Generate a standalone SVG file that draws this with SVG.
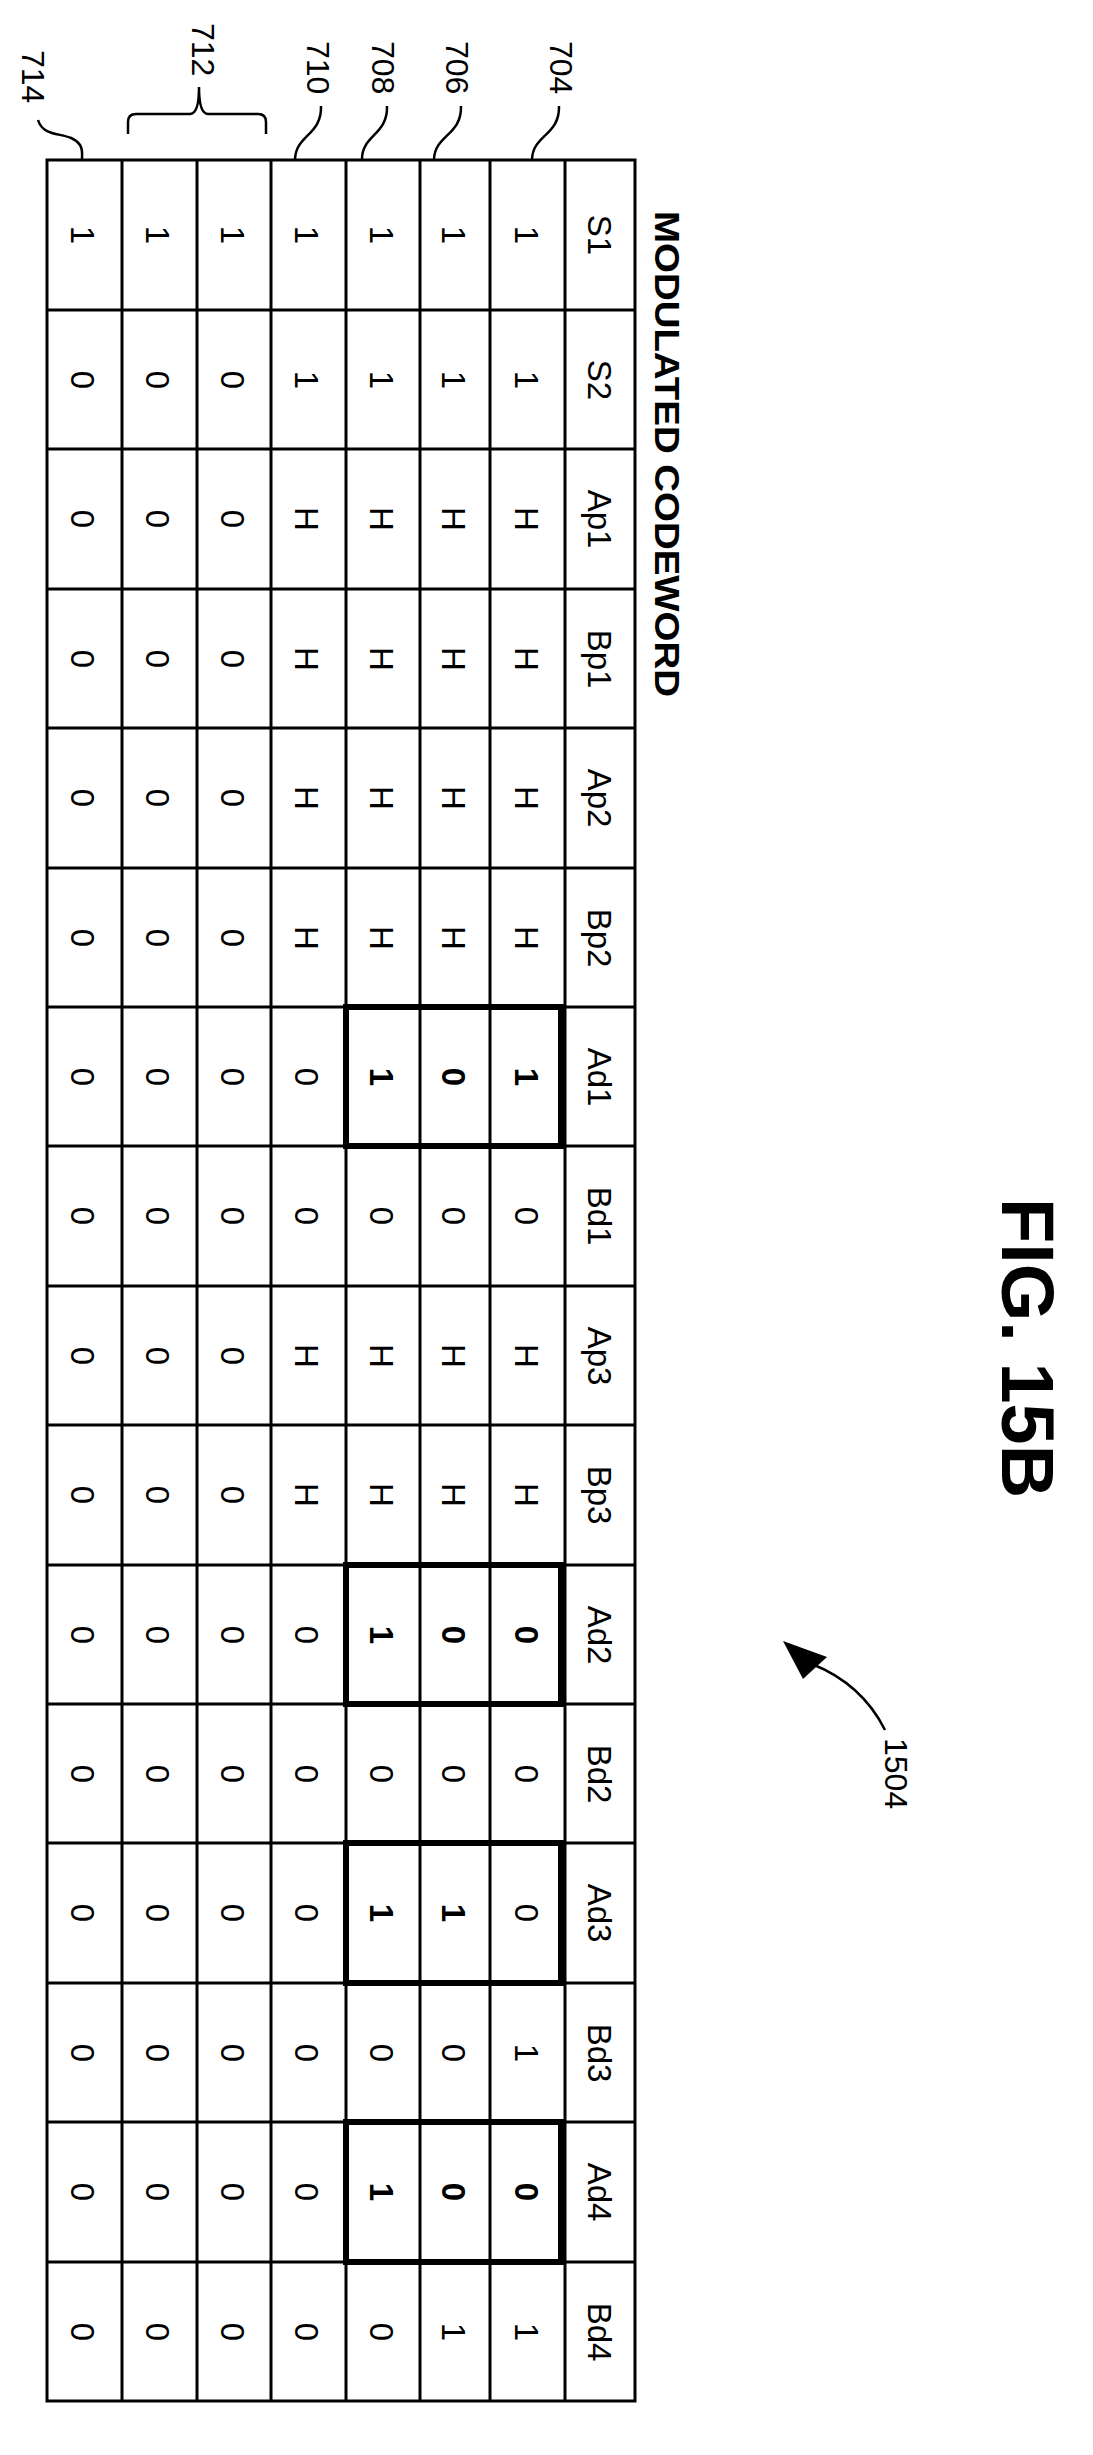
<svg xmlns="http://www.w3.org/2000/svg" width="1093" height="2455" viewBox="0 0 1093 2455">
<style>
.g{stroke:#000;stroke-width:3;fill:none}
.b{stroke:#000;stroke-width:6;fill:none}
.l{stroke:#000;stroke-width:2.5;fill:none}
text{font-family:"Liberation Sans",Arial,sans-serif;fill:#000}
.c{font-size:33px;text-anchor:middle}
.cb{font-size:33px;text-anchor:middle;font-weight:bold}
.r{font-size:32px}
</style>
<rect width="1093" height="2455" fill="#fff"/>
<g id="grid">
<rect class="g" x="47" y="160" width="588" height="2241"/>
<path class="g" d="M122,160V2401M197,160V2401M271,160V2401M346,160V2401M420,160V2401M490,160V2401M565,160V2401"/>
<path class="g" d="M47,310H635M47,449H635M47,589H635M47,728H635M47,868H635M47,1007H635M47,1146H635M47,1286H635M47,1425H635M47,1565H635M47,1704H635M47,1843H635M47,1983H635M47,2122H635M47,2262H635"/>
<rect class="b" x="346" y="1007" width="215" height="139"/>
<rect class="b" x="346" y="1565" width="215" height="139"/>
<rect class="b" x="346" y="1843" width="215" height="140"/>
<rect class="b" x="346" y="2122" width="215" height="140"/>
</g>
<g id="title"><text transform="translate(655,211) rotate(90)" font-size="35" font-weight="bold" textLength="486" lengthAdjust="spacingAndGlyphs">MODULATED CODEWORD</text></g>
<g id="fig"><text transform="translate(1002,1198) rotate(90)" font-size="74" font-weight="bold">FIG. 15B</text></g>
<g id="t1">
<g transform="translate(588,235) rotate(90)"><text class="c">S1</text></g>
<g transform="translate(588,380) rotate(90)"><text class="c">S2</text></g>
<g transform="translate(588,519) rotate(90)"><text class="c">Ap1</text></g>
<g transform="translate(588,659) rotate(90)"><text class="c">Bp1</text></g>
<g transform="translate(588,798) rotate(90)"><text class="c">Ap2</text></g>
<g transform="translate(588,938) rotate(90)"><text class="c">Bp2</text></g>
<g transform="translate(588,1077) rotate(90)"><text class="c">Ad1</text></g>
<g transform="translate(588,1216) rotate(90)"><text class="c">Bd1</text></g>
<g transform="translate(588,1356) rotate(90)"><text class="c">Ap3</text></g>
<g transform="translate(588,1495) rotate(90)"><text class="c">Bp3</text></g>
<g transform="translate(588,1635) rotate(90)"><text class="c">Ad2</text></g>
<g transform="translate(588,1774) rotate(90)"><text class="c">Bd2</text></g>
<g transform="translate(588,1913) rotate(90)"><text class="c">Ad3</text></g>
<g transform="translate(588,2053) rotate(90)"><text class="c">Bd3</text></g>
<g transform="translate(588,2192) rotate(90)"><text class="c">Ad4</text></g>
<g transform="translate(588,2332) rotate(90)"><text class="c">Bd4</text></g>
</g>
<g id="data">
<g transform="translate(515,235) rotate(90)"><text class="c">1</text></g>
<g transform="translate(442,235) rotate(90)"><text class="c">1</text></g>
<g transform="translate(370,235) rotate(90)"><text class="c">1</text></g>
<g transform="translate(295,235) rotate(90)"><text class="c">1</text></g>
<g transform="translate(221,235) rotate(90)"><text class="c">1</text></g>
<g transform="translate(146,235) rotate(90)"><text class="c">1</text></g>
<g transform="translate(71,235) rotate(90)"><text class="c">1</text></g>
<g transform="translate(515,380) rotate(90)"><text class="c">1</text></g>
<g transform="translate(442,380) rotate(90)"><text class="c">1</text></g>
<g transform="translate(370,380) rotate(90)"><text class="c">1</text></g>
<g transform="translate(295,380) rotate(90)"><text class="c">1</text></g>
<g transform="translate(221,380) rotate(90)"><text class="c">0</text></g>
<g transform="translate(146,380) rotate(90)"><text class="c">0</text></g>
<g transform="translate(71,380) rotate(90)"><text class="c">0</text></g>
<g transform="translate(515,519) rotate(90)"><text class="c">H</text></g>
<g transform="translate(442,519) rotate(90)"><text class="c">H</text></g>
<g transform="translate(370,519) rotate(90)"><text class="c">H</text></g>
<g transform="translate(295,519) rotate(90)"><text class="c">H</text></g>
<g transform="translate(221,519) rotate(90)"><text class="c">0</text></g>
<g transform="translate(146,519) rotate(90)"><text class="c">0</text></g>
<g transform="translate(71,519) rotate(90)"><text class="c">0</text></g>
<g transform="translate(515,659) rotate(90)"><text class="c">H</text></g>
<g transform="translate(442,659) rotate(90)"><text class="c">H</text></g>
<g transform="translate(370,659) rotate(90)"><text class="c">H</text></g>
<g transform="translate(295,659) rotate(90)"><text class="c">H</text></g>
<g transform="translate(221,659) rotate(90)"><text class="c">0</text></g>
<g transform="translate(146,659) rotate(90)"><text class="c">0</text></g>
<g transform="translate(71,659) rotate(90)"><text class="c">0</text></g>
<g transform="translate(515,798) rotate(90)"><text class="c">H</text></g>
<g transform="translate(442,798) rotate(90)"><text class="c">H</text></g>
<g transform="translate(370,798) rotate(90)"><text class="c">H</text></g>
<g transform="translate(295,798) rotate(90)"><text class="c">H</text></g>
<g transform="translate(221,798) rotate(90)"><text class="c">0</text></g>
<g transform="translate(146,798) rotate(90)"><text class="c">0</text></g>
<g transform="translate(71,798) rotate(90)"><text class="c">0</text></g>
<g transform="translate(515,938) rotate(90)"><text class="c">H</text></g>
<g transform="translate(442,938) rotate(90)"><text class="c">H</text></g>
<g transform="translate(370,938) rotate(90)"><text class="c">H</text></g>
<g transform="translate(295,938) rotate(90)"><text class="c">H</text></g>
<g transform="translate(221,938) rotate(90)"><text class="c">0</text></g>
<g transform="translate(146,938) rotate(90)"><text class="c">0</text></g>
<g transform="translate(71,938) rotate(90)"><text class="c">0</text></g>
<g transform="translate(515,1077) rotate(90)"><text class="cb">1</text></g>
<g transform="translate(442,1077) rotate(90)"><text class="cb">0</text></g>
<g transform="translate(370,1077) rotate(90)"><text class="cb">1</text></g>
<g transform="translate(295,1077) rotate(90)"><text class="c">0</text></g>
<g transform="translate(221,1077) rotate(90)"><text class="c">0</text></g>
<g transform="translate(146,1077) rotate(90)"><text class="c">0</text></g>
<g transform="translate(71,1077) rotate(90)"><text class="c">0</text></g>
<g transform="translate(515,1216) rotate(90)"><text class="c">0</text></g>
<g transform="translate(442,1216) rotate(90)"><text class="c">0</text></g>
<g transform="translate(370,1216) rotate(90)"><text class="c">0</text></g>
<g transform="translate(295,1216) rotate(90)"><text class="c">0</text></g>
<g transform="translate(221,1216) rotate(90)"><text class="c">0</text></g>
<g transform="translate(146,1216) rotate(90)"><text class="c">0</text></g>
<g transform="translate(71,1216) rotate(90)"><text class="c">0</text></g>
<g transform="translate(515,1356) rotate(90)"><text class="c">H</text></g>
<g transform="translate(442,1356) rotate(90)"><text class="c">H</text></g>
<g transform="translate(370,1356) rotate(90)"><text class="c">H</text></g>
<g transform="translate(295,1356) rotate(90)"><text class="c">H</text></g>
<g transform="translate(221,1356) rotate(90)"><text class="c">0</text></g>
<g transform="translate(146,1356) rotate(90)"><text class="c">0</text></g>
<g transform="translate(71,1356) rotate(90)"><text class="c">0</text></g>
<g transform="translate(515,1495) rotate(90)"><text class="c">H</text></g>
<g transform="translate(442,1495) rotate(90)"><text class="c">H</text></g>
<g transform="translate(370,1495) rotate(90)"><text class="c">H</text></g>
<g transform="translate(295,1495) rotate(90)"><text class="c">H</text></g>
<g transform="translate(221,1495) rotate(90)"><text class="c">0</text></g>
<g transform="translate(146,1495) rotate(90)"><text class="c">0</text></g>
<g transform="translate(71,1495) rotate(90)"><text class="c">0</text></g>
<g transform="translate(515,1635) rotate(90)"><text class="cb">0</text></g>
<g transform="translate(442,1635) rotate(90)"><text class="cb">0</text></g>
<g transform="translate(370,1635) rotate(90)"><text class="cb">1</text></g>
<g transform="translate(295,1635) rotate(90)"><text class="c">0</text></g>
<g transform="translate(221,1635) rotate(90)"><text class="c">0</text></g>
<g transform="translate(146,1635) rotate(90)"><text class="c">0</text></g>
<g transform="translate(71,1635) rotate(90)"><text class="c">0</text></g>
<g transform="translate(515,1774) rotate(90)"><text class="c">0</text></g>
<g transform="translate(442,1774) rotate(90)"><text class="c">0</text></g>
<g transform="translate(370,1774) rotate(90)"><text class="c">0</text></g>
<g transform="translate(295,1774) rotate(90)"><text class="c">0</text></g>
<g transform="translate(221,1774) rotate(90)"><text class="c">0</text></g>
<g transform="translate(146,1774) rotate(90)"><text class="c">0</text></g>
<g transform="translate(71,1774) rotate(90)"><text class="c">0</text></g>
<g transform="translate(515,1913) rotate(90)"><text class="c">0</text></g>
<g transform="translate(442,1913) rotate(90)"><text class="cb">1</text></g>
<g transform="translate(370,1913) rotate(90)"><text class="cb">1</text></g>
<g transform="translate(295,1913) rotate(90)"><text class="c">0</text></g>
<g transform="translate(221,1913) rotate(90)"><text class="c">0</text></g>
<g transform="translate(146,1913) rotate(90)"><text class="c">0</text></g>
<g transform="translate(71,1913) rotate(90)"><text class="c">0</text></g>
<g transform="translate(515,2053) rotate(90)"><text class="c">1</text></g>
<g transform="translate(442,2053) rotate(90)"><text class="c">0</text></g>
<g transform="translate(370,2053) rotate(90)"><text class="c">0</text></g>
<g transform="translate(295,2053) rotate(90)"><text class="c">0</text></g>
<g transform="translate(221,2053) rotate(90)"><text class="c">0</text></g>
<g transform="translate(146,2053) rotate(90)"><text class="c">0</text></g>
<g transform="translate(71,2053) rotate(90)"><text class="c">0</text></g>
<g transform="translate(515,2192) rotate(90)"><text class="cb">0</text></g>
<g transform="translate(442,2192) rotate(90)"><text class="cb">0</text></g>
<g transform="translate(370,2192) rotate(90)"><text class="cb">1</text></g>
<g transform="translate(295,2192) rotate(90)"><text class="c">0</text></g>
<g transform="translate(221,2192) rotate(90)"><text class="c">0</text></g>
<g transform="translate(146,2192) rotate(90)"><text class="c">0</text></g>
<g transform="translate(71,2192) rotate(90)"><text class="c">0</text></g>
<g transform="translate(515,2332) rotate(90)"><text class="c">1</text></g>
<g transform="translate(442,2332) rotate(90)"><text class="c">1</text></g>
<g transform="translate(370,2332) rotate(90)"><text class="c">0</text></g>
<g transform="translate(295,2332) rotate(90)"><text class="c">0</text></g>
<g transform="translate(221,2332) rotate(90)"><text class="c">0</text></g>
<g transform="translate(146,2332) rotate(90)"><text class="c">0</text></g>
<g transform="translate(71,2332) rotate(90)"><text class="c">0</text></g>
</g>
<g id="labels">
<text class="r" transform="translate(22,50) rotate(90)">714</text>
<text class="r" transform="translate(192,23) rotate(90)">712</text>
<text class="r" transform="translate(307,41) rotate(90)">710</text>
<text class="r" transform="translate(372,41) rotate(90)">708</text>
<text class="r" transform="translate(446,41) rotate(90)">706</text>
<text class="r" transform="translate(550,41) rotate(90)">704</text>
<text class="r" transform="translate(885,1738) rotate(90)">1504</text>
</g>
<g id="connectors">
<path class="l" d="M38,120 C44,140 70,130 80,145 C83,150 82,155 82,159"/>
<path class="l" d="M128,134 V122 Q128,114 136,114 H190 Q199,114 199,87 Q199,114 208,114 H258 Q266,114 266,122 V134"/>
<path class="l" d="M321,106 C322,135 296,135 295,159"/>
<path class="l" d="M387,106 C388,135 362,135 362,159"/>
<path class="l" d="M461,106 C462,135 435,135 434,159"/>
<path class="l" d="M559,106 C560,135 533,135 532,159"/>
<path class="l" d="M885,1730 Q862,1684 812,1664"/>
<polygon points="783,1641 827,1657 803,1679" fill="#000"/>
</g>
</svg>
